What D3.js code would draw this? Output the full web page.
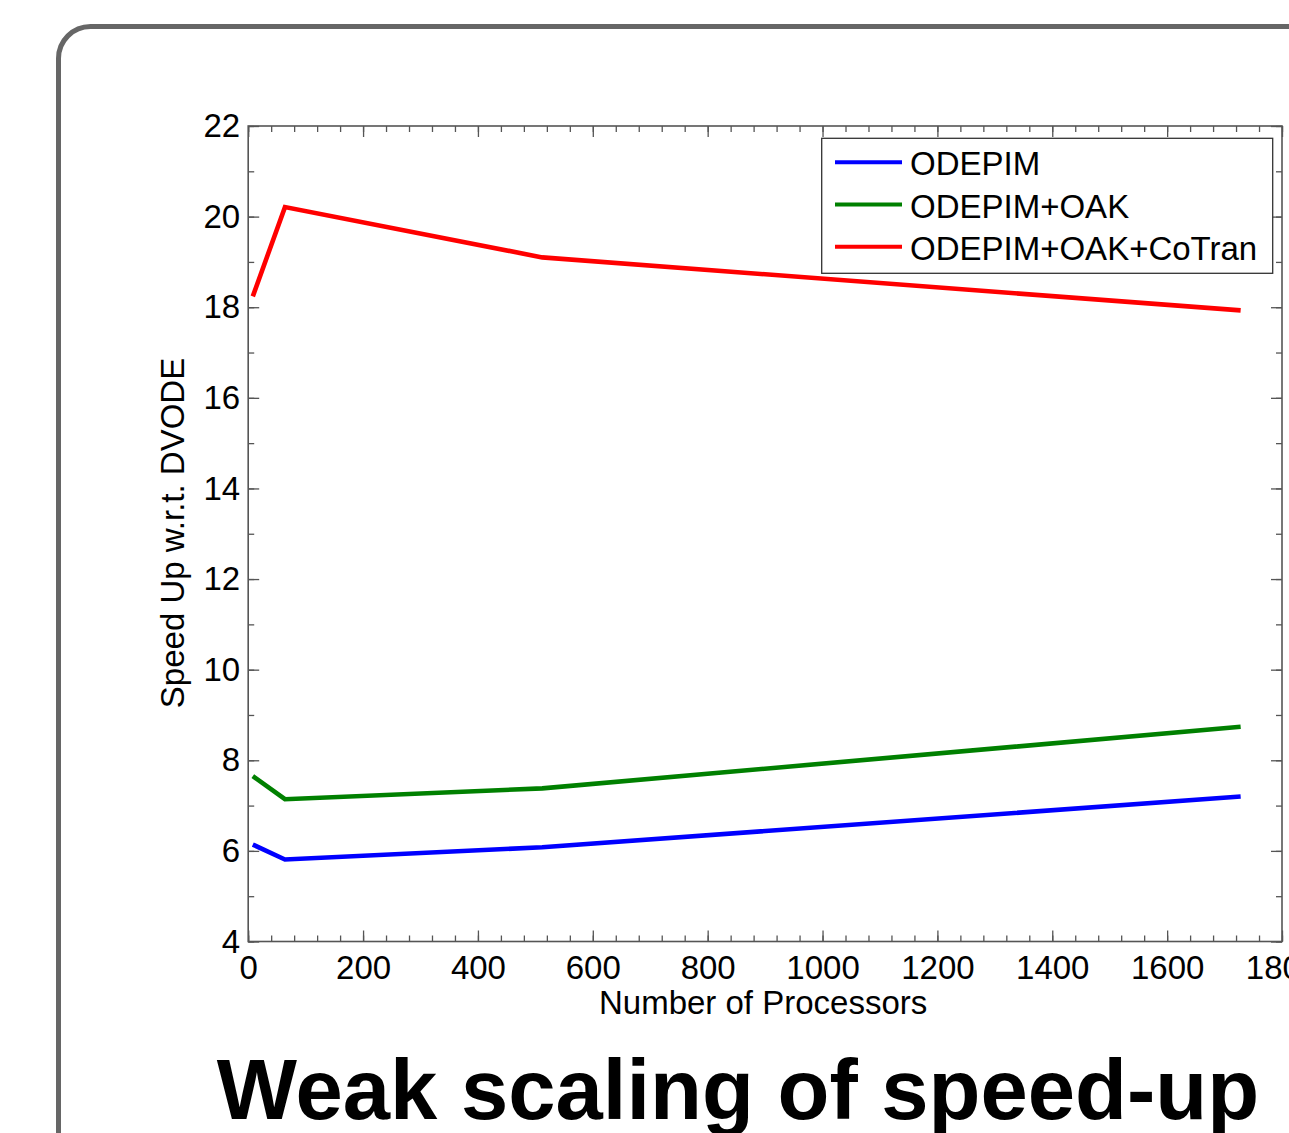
<!DOCTYPE html>
<html>
<head>
<meta charset="utf-8">
<script src="https://cdn.jsdelivr.net/npm/d3@7"></script>
<style>
  html, body { margin: 0; padding: 0; background: #fff; overflow: hidden; }
  svg { display: block; font-family: "Liberation Sans", Arial, sans-serif; }
</style>
</head>
<body>
<svg id="chart" width="1289" height="1133"></svg>
<script>
// Weak scaling: processor counts and speed-up relative to DVODE
const processors = [8, 64, 512, 1728];
const odepim = [6.14, 5.81, 6.08, 7.20];
const odepimOak = [7.65, 7.14, 7.38, 8.74];
const odepimOakCoTran = [18.24, 20.21, 19.10, 17.93];

const seriesNames = ["ODEPIM", "ODEPIM+OAK", "ODEPIM+OAK+CoTran"];
const seriesColors = ["#0000ff", "#008000", "#ff0000"];

const xTicks = [0, 200, 400, 600, 800, 1000, 1200, 1400, 1600, 1800];
const xMinorTicks = d3.range(0, 1801, 40);
const yTicks = [4, 6, 8, 10, 12, 14, 16, 18, 20, 22];
const yMinorTicks = d3.range(4, 22.5, 1);

const series = [odepim, odepimOak, odepimOakCoTran].map((vals, i) => ({
  name: seriesNames[i],
  color: seriesColors[i],
  points: processors.map((p, j) => [p, vals[j]])
}));

const svg = d3.select("#chart");

// outer rounded frame
svg.append("rect")
  .attr("x", 58.5).attr("y", 26.5)
  .attr("width", 1400).attr("height", 1140)
  .attr("rx", 32).attr("ry", 32)
  .attr("fill", "none")
  .attr("stroke", "#666")
  .attr("stroke-width", 5);

const plot = { left: 248.2, right: 1282, top: 126, bottom: 941.5 };

const x = d3.scaleLinear().domain([0, 1800]).range([plot.left, plot.right]);
const y = d3.scaleLinear().domain([4, 22]).range([plot.bottom, plot.top]);

const axisColor = "#555";
const fontSize = 33;

function styleAxis(g) {
  g.select(".domain").remove();
  g.selectAll(".tick line").attr("stroke", axisColor).attr("stroke-width", 1.3);
  g.selectAll(".tick text").attr("fill", "#000").attr("font-size", fontSize)
    .attr("font-family", "'Liberation Sans', Arial, sans-serif");
}

// minor ticks, all four sides
svg.append("g").attr("transform", `translate(0,${plot.bottom})`)
  .call(d3.axisBottom(x).tickValues(xMinorTicks).tickSize(-6).tickFormat(""))
  .call(styleAxis);
svg.append("g").attr("transform", `translate(0,${plot.top})`)
  .call(d3.axisTop(x).tickValues(xMinorTicks).tickSize(-6).tickFormat(""))
  .call(styleAxis);
svg.append("g").attr("transform", `translate(${plot.left},0)`)
  .call(d3.axisLeft(y).tickValues(yMinorTicks).tickSize(-6).tickFormat(""))
  .call(styleAxis);
svg.append("g").attr("transform", `translate(${plot.right},0)`)
  .call(d3.axisRight(y).tickValues(yMinorTicks).tickSize(-6).tickFormat(""))
  .call(styleAxis);

// major ticks with labels
svg.append("g").attr("transform", `translate(0,${plot.bottom})`)
  .call(d3.axisBottom(x).tickValues(xTicks).tickSize(-11).tickPadding(14).tickFormat(d3.format("d")))
  .call(styleAxis);
svg.append("g").attr("transform", `translate(0,${plot.top})`)
  .call(d3.axisTop(x).tickValues(xTicks).tickSize(-11).tickFormat(""))
  .call(styleAxis);
svg.append("g").attr("transform", `translate(${plot.left},0)`)
  .call(d3.axisLeft(y).tickValues(yTicks).tickSize(-11).tickPadding(8).tickFormat(d3.format("d")))
  .call(styleAxis);
svg.append("g").attr("transform", `translate(${plot.right},0)`)
  .call(d3.axisRight(y).tickValues(yTicks).tickSize(-11).tickFormat(""))
  .call(styleAxis);

// plot box
svg.append("rect")
  .attr("x", plot.left).attr("y", plot.top)
  .attr("width", plot.right - plot.left).attr("height", plot.bottom - plot.top)
  .attr("fill", "none").attr("stroke", axisColor).attr("stroke-width", 1.6);

// series lines
const line = d3.line().x(d => x(d[0])).y(d => y(d[1]));
svg.append("g").selectAll("path")
  .data(series)
  .join("path")
  .attr("d", d => line(d.points))
  .attr("fill", "none")
  .attr("stroke", d => d.color)
  .attr("stroke-width", 4.6)
  .attr("stroke-linejoin", "miter");

// legend
const legend = { x: 821.7, y: 138.3, w: 451, h: 135, row0: 162.3, rowStep: 42.2 };
svg.append("rect")
  .attr("x", legend.x).attr("y", legend.y)
  .attr("width", legend.w).attr("height", legend.h)
  .attr("fill", "#fff").attr("stroke", "#333").attr("stroke-width", 1.3);
const items = svg.append("g").selectAll("g")
  .data(series)
  .join("g")
  .attr("transform", (d, i) => `translate(0,${legend.row0 + i * legend.rowStep})`);
items.append("line")
  .attr("x1", 835).attr("x2", 902)
  .attr("y1", 0).attr("y2", 0)
  .attr("stroke", d => d.color).attr("stroke-width", 4);
items.append("text")
  .attr("x", 910).attr("y", 13)
  .attr("font-size", fontSize)
  .attr("fill", "#000")
  .text(d => d.name);

// axis titles
svg.append("text")
  .attr("x", (plot.left + plot.right) / 2 - 2).attr("y", 1014)
  .attr("text-anchor", "middle")
  .attr("font-size", fontSize)
  .attr("fill", "#000")
  .text("Number of Processors");

svg.append("text")
  .attr("transform", `translate(184,533) rotate(-90)`)
  .attr("text-anchor", "middle")
  .attr("font-size", fontSize)
  .attr("fill", "#000")
  .text("Speed Up w.r.t. DVODE");

// headline
svg.append("text")
  .attr("x", 738).attr("y", 1119)
  .attr("text-anchor", "middle")
  .attr("font-size", 85)
  .attr("font-weight", "bold")
  .attr("fill", "#000")
  .text("Weak scaling of speed-up");
</script>
</body>
</html>
